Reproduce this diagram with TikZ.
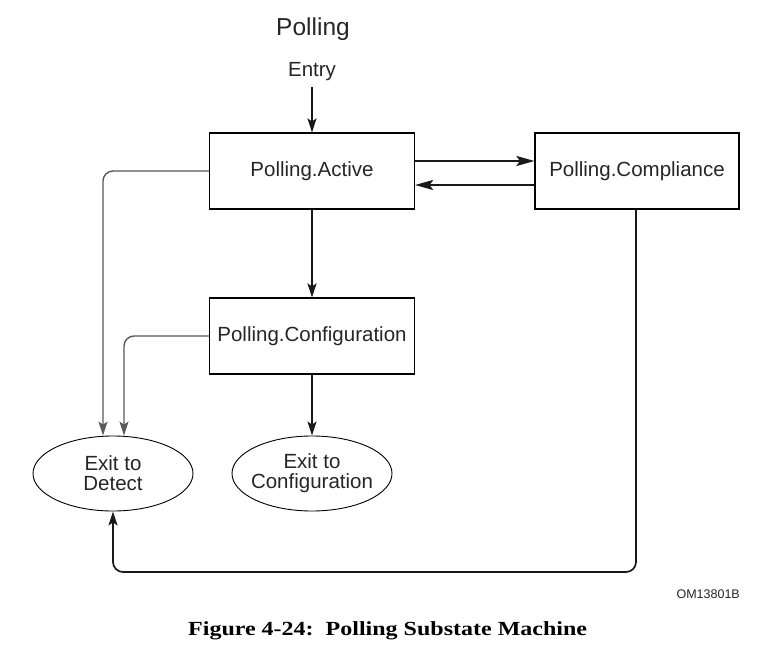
\documentclass[tikz,border=0pt]{standalone}
\usepackage{fontspec}
\setmainfont{Liberation Sans}
\newfontfamily\capfont[FakeStretch=1.2]{Liberation Serif}
\usetikzlibrary{arrows.meta,shapes.geometric,calc}
\begin{document}
\begin{tikzpicture}[x=1pt,y=-1pt,
  lbl/.style={font=\fontsize{20.5}{20}\selectfont, text=black!85},
  statebox/.style={draw, line width=1.2pt, minimum width=205pt, minimum height=76pt, inner sep=0pt, lbl},
  exitnode/.style={draw, ellipse, line width=0.9pt, minimum width=160pt, minimum height=75pt, inner xsep=-8pt, inner ysep=0pt, align=center, lbl},
  arr/.style={line width=1.7pt, black!90, -{Stealth[length=14pt,width=9pt,inset=3pt]}},
  harr/.style={line width=2.2pt, black!90, -{Stealth[length=18pt,width=10pt,inset=3.5pt]}},
  garr/.style={line width=1.4pt, black!65, rounded corners=10pt, -{Stealth[length=14pt,width=9pt,inset=3pt]}},
]
\useasboundingbox (0,0) rectangle (775,668);
\fill[white] (0,0) rectangle (775,668);

\node[font=\fontsize{24.5}{26}\selectfont, text=black!85, anchor=base, inner sep=0pt] (title) at (313,36) {Polling};
\node[lbl, anchor=base, inner sep=0pt] (entry) at (312,77) {Entry};

\node[statebox] (active) at (312,171) {Polling.Active};
\node[statebox, minimum width=204pt] (compliance) at (637,171) {Polling.Compliance};
\node[statebox] (config) at (312,336) {Polling.Configuration};

\node[exitnode] (detect) at (113,473.5) {Exit to\\Detect};
\node[exitnode] (exitcfg) at (312,473.5) {Exit to\\Configuration};

\coordinate (low) at (113,572);

\draw[arr, shorten <=6pt] (entry.south) -- (active.north);
\draw[harr] ([yshift=10pt]active.east) -- ([yshift=10pt]compliance.west);
\draw[harr] ([yshift=-14pt]compliance.west) -- ([yshift=-14pt]active.east);
\draw[arr] (active.south) -- (config.north);
\draw[arr] (config.south) -- (exitcfg.north);
\draw[garr] (active.west) -| ([xshift=-10pt]detect.north);
\draw[garr] (config.west) -| ([xshift=11pt]detect.north);
\draw[arr, rounded corners=10pt] ([xshift=-1pt]compliance.south) |- (low) -- (detect.south);

\node[font=\fontsize{12.5}{13}\selectfont, text=black!85, anchor=base east, inner sep=0pt] (om) at (740,598) {OM13801B};
\node[font=\capfont\bfseries\fontsize{20}{22}\selectfont, anchor=base west, inner sep=0pt] (cap) at (188,635) {Figure 4-24:\ \ Polling Substate Machine};
\end{tikzpicture}
\end{document}
